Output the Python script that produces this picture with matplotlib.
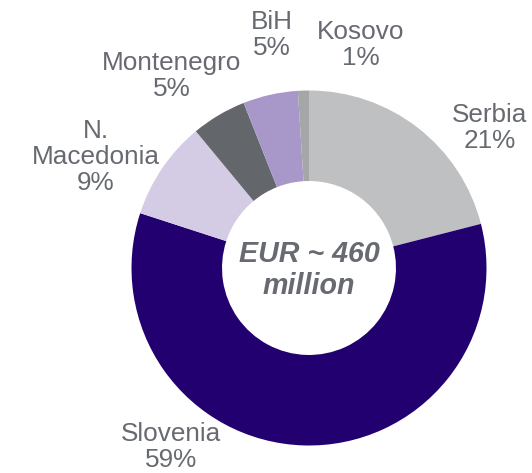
import matplotlib
matplotlib.use("Agg")
import matplotlib.pyplot as plt

# Export shares by destination, listed clockwise from 12 o'clock
countries = ["Serbia", "Slovenia", "N.\nMacedonia", "Montenegro", "BiH", "Kosovo"]
shares = [21, 59, 9, 5, 5, 1]
colors = ["#bfc0c2", "#22006f", "#d4cce5", "#63666b", "#a898ca", "#a5a6a8"]
total_label = "EUR ~ 460\nmillion"

plt.rcParams["font.family"] = ["Liberation Sans", "DejaVu Sans"]
TEXT = "#676a70"

W, H, DPI = 532, 473, 100
fig = plt.figure(figsize=(W / DPI, H / DPI), dpi=DPI)
ax = fig.add_axes([0, 0, 1, 1])

# pixel geometry of the ring
cx, cy, R = 309.0, 268.0, 177.5

ax.pie(shares, colors=colors, startangle=90, counterclock=False,
       radius=1.0, wedgeprops=dict(width=0.51, linewidth=0))
ax.set_xlim(-cx / R, (W - cx) / R)
ax.set_ylim(-(H - cy) / R, cy / R)
ax.set_aspect("auto")
ax.axis("off")

# label centres in pixel space
label_px = [(490, 128), (171, 447), (96, 157), (172, 76), (272, 35), (361, 45)]
for name, val, (px, py) in zip(countries, shares, label_px):
    ax.text((px - cx) / R, (cy - py) / R, f"{name}\n{val}%", ha="center",
            va="center", fontsize=18.8, color=TEXT, linespacing=1.12)

ax.text(0, -0.01, total_label, ha="center", va="center", fontsize=20.6,
        fontweight="bold", fontstyle="italic", color=TEXT, linespacing=1.18)

fig.savefig("out.png", dpi=DPI)
